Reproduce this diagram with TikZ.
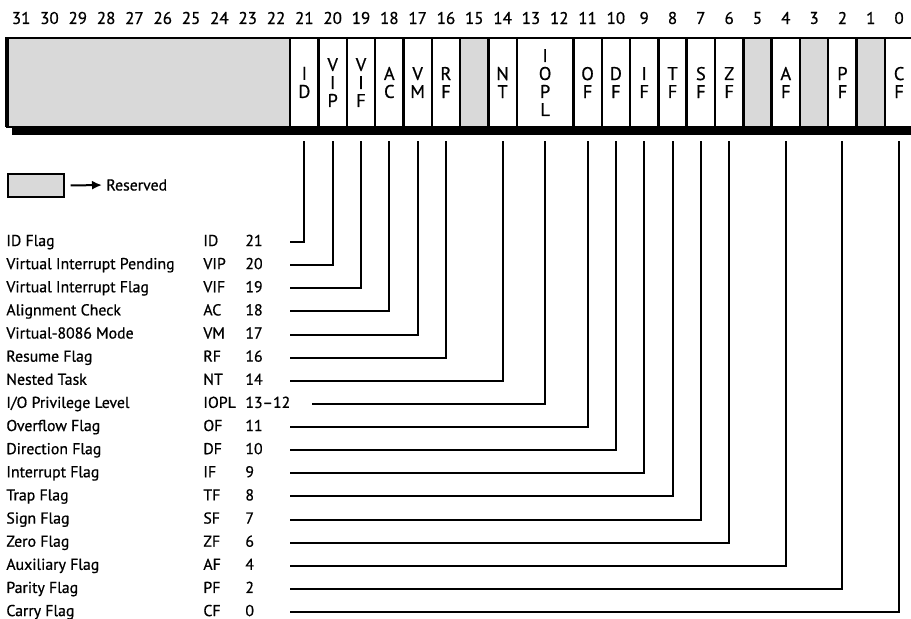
\documentclass[tikz,border=0pt]{standalone}
\usepackage{fontspec}
\setmainfont{PT Sans}[UprightFeatures={FakeBold=0.7}]
\usetikzlibrary{arrows.meta}

\tikzset{
  reserved/.style={draw, line width=1.2pt, fill=black!15, minimum height=44.5pt, inner sep=0pt},
  flagcell/.style={draw, line width=1.2pt, fill=white, minimum width=14.16pt, minimum height=44.5pt,
    inner sep=0pt, align=center, font=\fontsize{9.2}{9}\selectfont},
  bitnum/.style={font=\fontsize{8.5}{10}\selectfont, inner sep=0pt},
  rowtext/.style={anchor=base west, inner sep=0pt, font=\fontsize{7.9}{9}\selectfont},
  lead/.style={line width=1pt},
}

\begin{document}
\begin{tikzpicture}[x=0.5pt, y=-0.5pt]
    \useasboundingbox (0,0) rectangle (911,618);
    % bit numbers along the top
    \foreach \b in {0,...,31}
        \node[bitnum] (b\b) at ({7+(31.5-\b)*28.32},18) {\b};
    % heavy bar under the register
    \fill (12,126) rectangle (915,135);
    % reserved bits
    \node[reserved, minimum width=141.6pt] (r31) at (148.6,82.5) {};
    \foreach \b in {15,5,3,1}
        \node[reserved, minimum width=14.16pt] (r\b) at ({7+(31.5-\b)*28.32},82.5) {};
    % flag bits
    \foreach \b/\ab/\txt in {21/ID/{I\\D}, 20/VIP/{V\\I\\P}, 19/VIF/{V\\I\\F}, 18/AC/{A\\C},
        17/VM/{V\\M}, 16/RF/{R\\F}, 14/NT/{N\\T}, 11/OF/{O\\F}, 10/DF/{D\\F}, 9/IF/{I\\F},
        8/TF/{T\\F}, 7/SF/{S\\F}, 6/ZF/{Z\\F}, 4/AF/{A\\F}, 2/PF/{P\\F}, 0/CF/{C\\F}}
        \node[flagcell] (c\ab) at ({7+(31.5-\b)*28.32},82.5) {\txt};
    \node[flagcell, minimum width=28.32pt] (cIOPL) at (545.1,82.5) {I\\O\\P\\L};
    \draw[line width=1.6pt] (7,37) -- (7,127);
    % key
    \node[reserved, minimum width=28pt, minimum height=11.5pt, line width=0.7pt] (key) at (36,185.5) {};
    \node[rowtext, anchor=west] (keytxt) at (106,185) {Reserved};
    \draw[lead, -{Latex[length=5pt,width=4.5pt]}, shorten <=3pt, shorten >=2pt] (key.east) -- (keytxt.west);
    % one row per flag, with its lead up to the bit
    \foreach \name/\ab/\num/\sx [count=\k from 0] in {ID Flag/ID/21/290,
        Virtual Interrupt Pending/VIP/20/290, Virtual Interrupt Flag/VIF/19/290,
        Alignment Check/AC/18/290, Virtual-8086 Mode/VM/17/290, Resume Flag/RF/16/290,
        Nested Task/NT/14/290, {I/O Privilege Level}/IOPL/13--12/312, Overflow Flag/OF/11/290,
        Direction Flag/DF/10/290, Interrupt Flag/IF/9/290, Trap Flag/TF/8/290,
        Sign Flag/SF/7/290, Zero Flag/ZF/6/290, Auxiliary Flag/AF/4/290,
        Parity Flag/PF/2/290, Carry Flag/CF/0/290}{
        \pgfmathsetmacro\ry{242+23.13*\k}
        \node[rowtext] (n\k) at (6,\ry+4) {\name};
        \node[rowtext] (a\k) at (203,\ry+4) {\ab};
        \node[rowtext] (v\k) at (245,\ry+4) {\num};
        \coordinate (s\k) at (\sx,\ry);
        \draw[lead, shorten >=6.5pt] (s\k) -| (c\ab.south);
    }
\end{tikzpicture}
\end{document}
